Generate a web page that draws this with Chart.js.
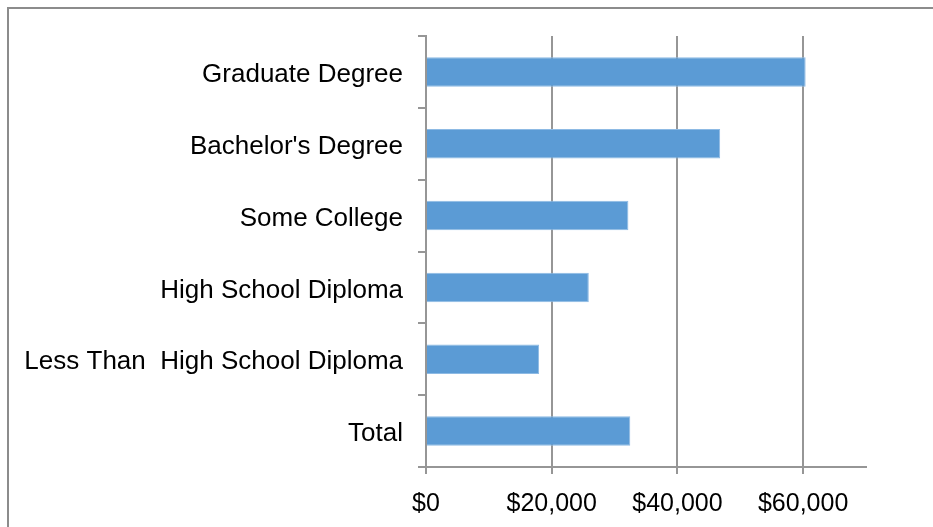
<!DOCTYPE html>
<html>
<head>
<meta charset="utf-8">
<script src="https://cdn.jsdelivr.net/npm/chart.js@4/dist/chart.umd.min.js"></script>
<style>
  html, body { margin: 0; padding: 0; background: #ffffff; }
  canvas { display: block; }
</style>
</head>
<body>
<canvas id="chart" width="933" height="527"></canvas>
<script>
"use strict";

// Data
var categories = [
    'Graduate Degree',
    "Bachelor's Degree",
    'Some College',
    'High School Diploma',
    'Less Than  High School Diploma',
    'Total'
];
var earnings = [60400, 46800, 32200, 25900, 18000, 32500];
var tickValues = [0, 20000, 40000, 60000];

// Styles
var barColor = '#5B9BD5';
var axisColor = '#969696';
var fontFamily = '"Liberation Sans", Arial, sans-serif';

// Outer chart frame (cut off at right and bottom like the source)
var framePlugin = {
    id: 'frame',
    beforeDraw: function (chart) {
        var ctx = chart.ctx;
        ctx.save();
        ctx.fillStyle = '#ffffff';
        ctx.fillRect(0, 0, chart.width, chart.height);
        ctx.strokeStyle = '#8c8c8c';
        ctx.lineWidth = 2;
        ctx.strokeRect(8, 8, 1200, 1200);
        ctx.restore();
    }
};

var ctx = document.getElementById('chart').getContext('2d');

var chart = new Chart(ctx, {
    type: 'bar',
    data: {
        labels: categories,
        datasets: [{
            label: 'Earnings',
            data: earnings,
            backgroundColor: barColor,
            borderColor: '#8dbae4',
            borderWidth: 1,
            borderSkipped: 'left',
            barPercentage: 0.41,
            categoryPercentage: 1
        }]
    },
    options: {
        indexAxis: 'y',
        responsive: false,
        animation: false,
        layout: {
            padding: { top: 36, right: 67, bottom: 0, left: 0 }
        },
        plugins: {
            legend: { display: false },
            title: { display: false },
            tooltip: { enabled: false }
        },
        scales: {
            x: {
                min: 0,
                max: 70000,
                afterBuildTicks: function (scale) {
                    scale.ticks = tickValues.map(function (v) { return { value: v }; });
                },
                afterFit: function (scale) {
                    scale.height = 60;
                },
                ticks: {
                    stepSize: 20000,
                    padding: 15,
                    color: '#000000',
                    font: { family: fontFamily, size: 25 },
                    callback: function (value) {
                        return '$' + Number(value).toLocaleString('en-US');
                    }
                },
                grid: {
                    color: axisColor,
                    lineWidth: 2,
                    tickLength: 7,
                    drawOnChartArea: true
                },
                border: { color: axisColor, width: 2 }
            },
            y: {
                afterFit: function (scale) {
                    scale.width = 426;
                },
                ticks: {
                    padding: 15,
                    labelOffset: 3,
                    color: '#000000',
                    font: { family: fontFamily, size: 26 }
                },
                grid: {
                    offset: true,
                    color: axisColor,
                    lineWidth: 2,
                    tickLength: 8,
                    drawOnChartArea: false
                },
                border: { color: axisColor, width: 2 }
            }
        }
    },
    plugins: [framePlugin]
});
</script>
</body>
</html>
